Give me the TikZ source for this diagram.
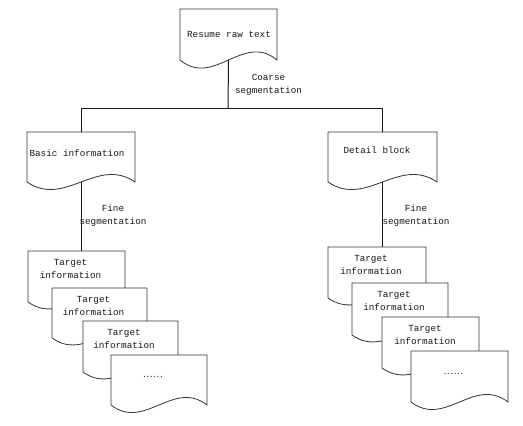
\documentclass[tikz,border=0pt]{standalone}
\usepackage{fontspec}
\setmonofont{Liberation Mono}
\usetikzlibrary{calc}
\tikzset{
  docline/.style={draw=black!80, line width=0.8pt, fill=white},
  conn/.style={draw=black!90, line width=1pt},
  txt/.style={font=\ttfamily\fontsize{9.3}{13}\selectfont, align=center, inner sep=0pt, text=black!90},
  dotstxt/.style={font=\rmfamily\fontsize{12.5}{13}\selectfont, inner sep=0pt, text=black!90},
  shapebox/.style={draw=none, inner sep=0pt, outer sep=0pt},
}
% name, L, T, R, B, d, text x, text y, text
\newcommand\docnode[9]{%
  \path[docline] (#2,#5) -- (#2,#3) -- (#4,#3) -- (#4,#5)
    .. controls ({#4-0.35*(#4-#2)},{#5-#6}) and ({#2+0.35*(#4-#2)},{#5+#6}) .. (#2,#5) -- cycle;
  \node[shapebox, minimum width={(#4-#2)*1pt}, minimum height={(#5-#3)*1pt}] (#1) at ({(#2+#4)/2},{(#3+#5)/2}) {};
  \node[txt] (#1-t) at (#7,#8) {#9};
}
% name, L, T, R, B, d, text x, text y  (dots)
\newcommand\dotsnode[8]{%
  \path[docline] (#2,#5) -- (#2,#3) -- (#4,#3) -- (#4,#5)
    .. controls ({#4-0.35*(#4-#2)},{#5-#6}) and ({#2+0.35*(#4-#2)},{#5+#6}) .. (#2,#5) -- cycle;
  \node[shapebox, minimum width={(#4-#2)*1pt}, minimum height={(#5-#3)*1pt}] (#1) at ({(#2+#4)/2},{(#3+#5)/2}) {};
  \node[dotstxt] (#1-t) at (#7,#8) {......};
}
\begin{document}
\begin{tikzpicture}[x=1pt, y=-1pt]
\useasboundingbox[fill=white] (0,0) rectangle (523,426);

\docnode{top}{180}{9}{277}{60}{28}{229}{34}{Resume raw text}
\docnode{basic}{27}{132}{135}{182}{26}{77}{153}{Basic information}
\docnode{detail}{328}{132}{437}{182}{26}{377}{150}{Detail block}

\docnode{lt1}{28}{251}{125}{302}{24}{70.5}{269}{Target\\information}
\docnode{lt2}{52}{288}{147}{338}{24}{93.5}{305.5}{Target\\information}
\docnode{lt3}{83}{321}{178}{372}{24}{124}{338.5}{Target\\information}
\dotsnode{lt4}{111}{355}{207}{405}{26}{153}{377}

\docnode{rt1}{328}{247}{426}{298}{24}{371}{265}{Target\\information}
\docnode{rt2}{352}{283}{448}{335}{24}{394}{301}{Target\\information}
\docnode{rt3}{382}{317}{479}{368}{24}{425}{334.5}{Target\\information}
\dotsnode{rt4}{411}{351}{508}{402}{26}{453.5}{374}

\coordinate (j) at (228,108);
\coordinate (jl) at (basic.north |- j);
\coordinate (jr) at (detail.north |- j);
\draw[conn] (top.south) -- (j);
\draw[conn] (jl) -- (jr);
\draw[conn] (jl) -- (basic.north);
\draw[conn] (jr) -- (detail.north);
\draw[conn] (basic.south) -- (basic.south |- lt1.north);
\draw[conn] (detail.south) -- (detail.south |- rt1.north);

\node[txt] (coarse) at (268.5,84.5) {Coarse\\segmentation};
\node[txt] (finel) at (113,215.5) {Fine\\segmentation};
\node[txt] (finer) at (416,215.5) {Fine\\segmentation};
\end{tikzpicture}
\end{document}
